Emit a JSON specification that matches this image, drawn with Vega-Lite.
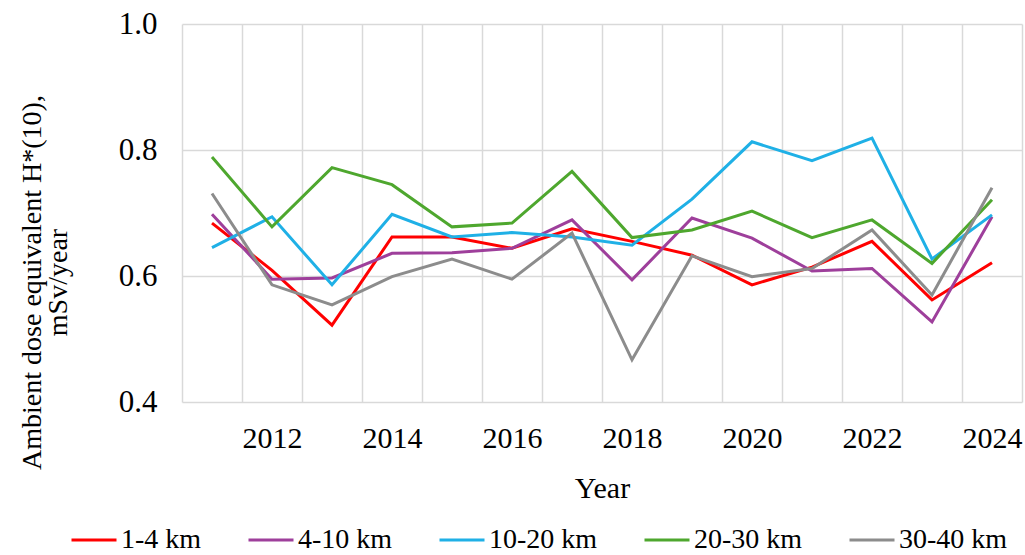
{
  "$schema": "https://vega.github.io/schema/vega-lite/v6.json",
  "autosize": {"type": "none"},
  "width": 840,
  "height": 378,
  "padding": {"left": 182, "top": 24, "right": 3, "bottom": 153},
  "background": "white",
  "config": {
    "view": {"stroke": null},
    "font": "Liberation Serif"
  },
  "data": {"values": [
    {"year": 2011, "series": "1-4 km", "value": 0.684},
    {"year": 2012, "series": "1-4 km", "value": 0.609},
    {"year": 2013, "series": "1-4 km", "value": 0.522},
    {"year": 2014, "series": "1-4 km", "value": 0.662},
    {"year": 2015, "series": "1-4 km", "value": 0.662},
    {"year": 2016, "series": "1-4 km", "value": 0.644},
    {"year": 2017, "series": "1-4 km", "value": 0.675},
    {"year": 2018, "series": "1-4 km", "value": 0.655},
    {"year": 2019, "series": "1-4 km", "value": 0.633},
    {"year": 2020, "series": "1-4 km", "value": 0.586},
    {"year": 2021, "series": "1-4 km", "value": 0.614},
    {"year": 2022, "series": "1-4 km", "value": 0.655},
    {"year": 2023, "series": "1-4 km", "value": 0.562},
    {"year": 2024, "series": "1-4 km", "value": 0.621},
    {"year": 2011, "series": "4-10 km", "value": 0.698},
    {"year": 2012, "series": "4-10 km", "value": 0.595},
    {"year": 2013, "series": "4-10 km", "value": 0.597},
    {"year": 2014, "series": "4-10 km", "value": 0.636},
    {"year": 2015, "series": "4-10 km", "value": 0.637},
    {"year": 2016, "series": "4-10 km", "value": 0.644},
    {"year": 2017, "series": "4-10 km", "value": 0.689},
    {"year": 2018, "series": "4-10 km", "value": 0.594},
    {"year": 2019, "series": "4-10 km", "value": 0.692},
    {"year": 2020, "series": "4-10 km", "value": 0.660},
    {"year": 2021, "series": "4-10 km", "value": 0.608},
    {"year": 2022, "series": "4-10 km", "value": 0.612},
    {"year": 2023, "series": "4-10 km", "value": 0.527},
    {"year": 2024, "series": "4-10 km", "value": 0.694},
    {"year": 2011, "series": "10-20 km", "value": 0.645},
    {"year": 2012, "series": "10-20 km", "value": 0.694},
    {"year": 2013, "series": "10-20 km", "value": 0.586},
    {"year": 2014, "series": "10-20 km", "value": 0.698},
    {"year": 2015, "series": "10-20 km", "value": 0.662},
    {"year": 2016, "series": "10-20 km", "value": 0.669},
    {"year": 2017, "series": "10-20 km", "value": 0.662},
    {"year": 2018, "series": "10-20 km", "value": 0.649},
    {"year": 2019, "series": "10-20 km", "value": 0.722},
    {"year": 2020, "series": "10-20 km", "value": 0.813},
    {"year": 2021, "series": "10-20 km", "value": 0.783},
    {"year": 2022, "series": "10-20 km", "value": 0.819},
    {"year": 2023, "series": "10-20 km", "value": 0.627},
    {"year": 2024, "series": "10-20 km", "value": 0.697},
    {"year": 2011, "series": "20-30 km", "value": 0.789},
    {"year": 2012, "series": "20-30 km", "value": 0.678},
    {"year": 2013, "series": "20-30 km", "value": 0.772},
    {"year": 2014, "series": "20-30 km", "value": 0.745},
    {"year": 2015, "series": "20-30 km", "value": 0.678},
    {"year": 2016, "series": "20-30 km", "value": 0.684},
    {"year": 2017, "series": "20-30 km", "value": 0.766},
    {"year": 2018, "series": "20-30 km", "value": 0.661},
    {"year": 2019, "series": "20-30 km", "value": 0.673},
    {"year": 2020, "series": "20-30 km", "value": 0.703},
    {"year": 2021, "series": "20-30 km", "value": 0.661},
    {"year": 2022, "series": "20-30 km", "value": 0.689},
    {"year": 2023, "series": "20-30 km", "value": 0.620},
    {"year": 2024, "series": "20-30 km", "value": 0.721},
    {"year": 2011, "series": "30-40 km", "value": 0.731},
    {"year": 2012, "series": "30-40 km", "value": 0.586},
    {"year": 2013, "series": "30-40 km", "value": 0.554},
    {"year": 2014, "series": "30-40 km", "value": 0.599},
    {"year": 2015, "series": "30-40 km", "value": 0.627},
    {"year": 2016, "series": "30-40 km", "value": 0.595},
    {"year": 2017, "series": "30-40 km", "value": 0.668},
    {"year": 2018, "series": "30-40 km", "value": 0.467},
    {"year": 2019, "series": "30-40 km", "value": 0.632},
    {"year": 2020, "series": "30-40 km", "value": 0.599},
    {"year": 2021, "series": "30-40 km", "value": 0.612},
    {"year": 2022, "series": "30-40 km", "value": 0.673},
    {"year": 2023, "series": "30-40 km", "value": 0.570},
    {"year": 2024, "series": "30-40 km", "value": 0.740}
  ]},
  "resolve": {"axis": {"x": "independent"}},
  "layer": [
    {
      "mark": {"type": "point", "opacity": 0},
      "encoding": {
        "x": {
          "field": "year", "type": "quantitative",
          "scale": {"domain": [2010.5, 2024.5], "nice": false, "zero": false},
          "axis": {
            "orient": "top",
            "values": [2010.5, 2011.5, 2012.5, 2013.5, 2014.5, 2015.5, 2016.5, 2017.5, 2018.5, 2019.5, 2020.5, 2021.5, 2022.5, 2023.5, 2024.5],
            "labels": false, "ticks": false, "domain": false, "title": null,
            "grid": true, "gridColor": "#D9D9D9", "gridWidth": 1.5
          }
        },
        "y": {"field": "value", "type": "quantitative"}
      }
    },
    {
      "mark": {"type": "line", "strokeWidth": 3},
      "encoding": {
        "x": {
          "field": "year", "type": "quantitative",
          "axis": {
            "orient": "bottom",
            "values": [2012, 2014, 2016, 2018, 2020, 2022, 2024],
            "format": "d",
            "grid": false, "ticks": false, "domain": false,
            "labelFont": "Liberation Serif", "labelFontSize": 30, "labelColor": "#000000",
            "labelPadding": 21,
            "title": "Year",
            "titleFont": "Liberation Serif", "titleFontSize": 30, "titleFontWeight": "normal", "titleColor": "#000000",
            "titlePadding": 20
          }
        },
        "y": {
          "field": "value", "type": "quantitative",
          "scale": {"domain": [0.4, 1.0], "nice": false, "zero": false},
          "axis": {
            "values": [0.4, 0.6, 0.8, 1.0],
            "format": ".1f",
            "grid": true, "gridColor": "#D9D9D9", "gridWidth": 1.5,
            "ticks": false, "domain": false,
            "labelFont": "Liberation Serif", "labelFontSize": 31, "labelColor": "#000000",
            "labelPadding": 25,
            "title": ["Ambient dose equivalent H*(10),", "mSv/year"],
            "titleFont": "Liberation Serif", "titleFontSize": 28, "titleFontWeight": "normal", "titleColor": "#000000",
            "titleLineHeight": 26,
            "titleAnchor": null,
            "titleBaseline": "middle",
            "titleAlign": "center",
            "titleAngle": 270,
            "titleX": -150,
            "titleY": 258
          }
        },
        "color": {
          "field": "series", "type": "nominal",
          "scale": {
            "domain": ["1-4 km", "4-10 km", "10-20 km", "20-30 km", "30-40 km"],
            "range": ["#FF0000", "#9E3F9B", "#1FB0E6", "#4EA72E", "#8C8C8C"]
          },
          "legend": {
            "title": null,
            "orient": "none",
            "direction": "horizontal",
            "legendX": -112,
            "legendY": 492,
            "symbolType": "stroke",
            "symbolSize": 2025,
            "symbolStrokeWidth": 3,
            "labelFont": "Liberation Serif", "labelFontSize": 28, "labelColor": "#000000",
            "labelOffset": 3,
            "columnPadding": 40,
            "labelLimit": 300
          }
        }
      }
    }
  ]
}
